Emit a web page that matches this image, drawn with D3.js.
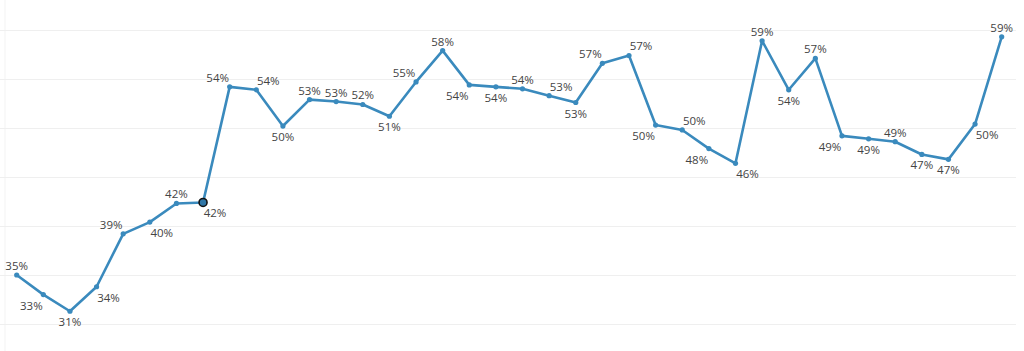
<!DOCTYPE html>
<html>
<head>
<meta charset="utf-8">
<script src="https://cdn.jsdelivr.net/npm/d3@7"></script>
<style>
  body { margin: 0; background: #fff; }
  svg { display: block; }
</style>
</head>
<body>
<svg id="chart"></svg>
<script>
// Share (%) by period
const periods = d3.range(1, 39);
const shares = [35.0, 33.0, 31.3, 33.8, 39.2, 40.4, 42.3, 42.4, 54.2, 53.9,
                50.2, 52.9, 52.7, 52.4, 51.2, 54.7, 57.9, 54.4, 54.2, 54.0,
                53.3, 52.6, 56.6, 57.4, 50.3, 49.8, 47.9, 46.4, 58.9, 53.9,
                57.1, 49.2, 48.9, 48.6, 47.3, 46.8, 50.4, 59.3];
const labels = ["35%", "33%", "31%", "34%", "39%", "40%", "42%", "42%", "54%", "54%",
                "50%", "53%", "53%", "52%", "51%", "55%", "58%", "54%", "54%", "54%",
                "53%", "53%", "57%", "57%", "50%", "50%", "48%", "46%", "59%", "54%",
                "57%", "49%", "49%", "49%", "47%", "47%", "50%", "59%"];
// where each label sits relative to its point (t/b = above/below, l/r = shifted)
const labelPos = ["t", "bl", "b", "br", "tl", "br", "t", "br", "tl", "tr",
                  "b", "t", "t", "t", "b", "tl", "t", "bl", "b", "t",
                  "tr", "b", "tl", "tr", "bl", "tr", "bl", "br", "t", "b",
                  "t", "bl", "b", "t", "b", "b", "br", "t"];
const gridValues = [30, 35, 40, 45, 50, 55, 60];
const highlightIndex = 7;

const W = 1024, H = 351;
const svg = d3.select("#chart").attr("width", W).attr("height", H);

const x = d3.scalePoint().domain(periods).range([16.7, 1001.7]);
const y = d3.scaleLinear().domain([30, 60]).range([324, 30]);

// faint frame line on the left
svg.append("line")
    .attr("x1", 5).attr("x2", 5)
    .attr("y1", 0).attr("y2", H)
    .attr("stroke", "#f3f3f3")
    .attr("stroke-width", 1);

// gridlines
svg.selectAll(".grid")
    .data(gridValues)
    .enter().append("line")
    .attr("class", "grid")
    .attr("x1", 0).attr("x2", 1016)
    .attr("y1", d => Math.round(y(d)) + 0.5)
    .attr("y2", d => Math.round(y(d)) + 0.5)
    .attr("stroke", "#efefef")
    .attr("stroke-width", 1);

const data = periods.map((p, i) => ({ p: p, v: shares[i], label: labels[i], pos: labelPos[i] }));

const line = d3.line()
    .x(d => x(d.p))
    .y(d => y(d.v));

svg.append("path")
    .datum(data)
    .attr("fill", "none")
    .attr("stroke", "#3a8abd")
    .attr("stroke-width", 2.6)
    .attr("stroke-linejoin", "round")
    .attr("d", line);

svg.selectAll(".dot")
    .data(data)
    .enter().append("circle")
    .attr("class", "dot")
    .attr("cx", d => x(d.p))
    .attr("cy", d => y(d.v))
    .attr("r", (d, i) => i === highlightIndex ? 4 : 2.6)
    .attr("fill", (d, i) => i === highlightIndex ? "#2f76a6" : "#3a8abd")
    .attr("stroke", (d, i) => i === highlightIndex ? "#111" : "none")
    .attr("stroke-width", 1.6);

svg.selectAll(".lbl")
    .data(data)
    .enter().append("text")
    .attr("class", "lbl")
    .attr("x", d => x(d.p) + (d.pos.includes("l") ? -12 : d.pos.includes("r") ? 12 : 0))
    .attr("y", d => y(d.v) + (d.pos[0] === "t" ? -5 : 15))
    .attr("text-anchor", "middle")
    .style("font-family", "'Open Sans', 'DejaVu Sans', sans-serif")
    .style("font-size", "11.5px")
    .style("fill", "#444")
    .text(d => d.label);
</script>
</body>
</html>
